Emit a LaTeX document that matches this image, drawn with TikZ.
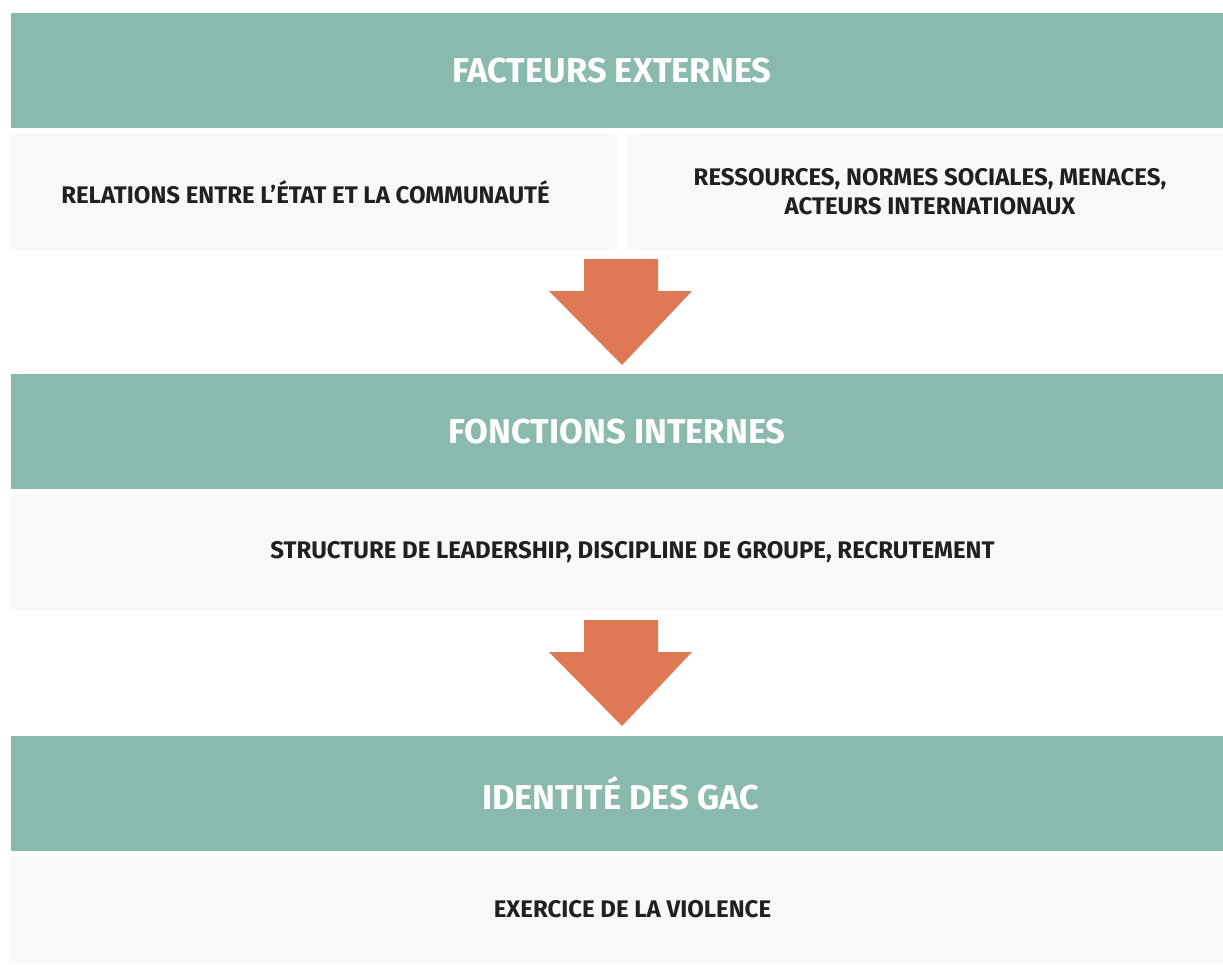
\documentclass[tikz,border=0pt]{standalone}
\usepackage{fontspec}
\setmainfont{Fira Sans}
\usetikzlibrary{calc}
\definecolor{headteal}{HTML}{8AB9AE}
\definecolor{boxgrey}{HTML}{F7F9F8}
\definecolor{arroworange}{HTML}{DF7855}
\definecolor{textdark}{HTML}{231F20}
\tikzset{headbox/.style={fill=headteal,text=white,inner sep=0pt,minimum width=1212pt,minimum height=115pt,
    font=\fontsize{34.5}{40}\selectfont\bfseries},
  subbox/.style={fill=boxgrey,text=textdark,inner sep=0pt,minimum height=116pt,align=center,
    font=\fontsize{24}{29}\selectfont\bfseries},
  blockarrow/.style={fill=arroworange}}

\begin{document}
\begin{tikzpicture}[x=1pt,y=-1pt]
      \useasboundingbox[fill=white] (0,0) rectangle (1223,964);
      \node[headbox] (ext) at (617, 70.5) {FACTEURS EXTERNES\hspace*{10pt}};
      \node[subbox,minimum width=607pt] (rel) at (313.5, 192) {RELATIONS ENTRE L’ÉTAT ET LA COMMUNAUTÉ\hspace*{16pt}};
      \node[subbox,minimum width=596pt] (res) at (925, 192) {\hspace*{10pt}RESSOURCES, NORMES SOCIALES, MENACES,\\\hspace*{10pt}ACTEURS INTERNATIONAUX};
      \node[headbox] (int) at (617, 431.5) {FONCTIONS INTERNES};
      \node[subbox,minimum width=1213pt,minimum height=115pt] (lead) at (616.5, 552.5) {\hspace*{32pt}STRUCTURE DE LEADERSHIP, DISCIPLINE DE GROUPE, RECRUTEMENT};
      \node[headbox] (gac) at (617, 793.5) {\hspace*{8pt}IDENTITÉ DES GAC};
      \node[subbox,minimum width=1213pt,minimum height=107pt] (viol) at (616.5, 909.5) {\hspace*{32pt}EXERCICE DE LA VIOLENCE};
      \coordinate (a1) at (621, 259);
      \coordinate (a2) at (621, 620);
      \fill[blockarrow] ($(a1)+(-37,0)$) -- ($(a1)+(37,0)$) -- ($(a1)+(37,32)$) -- ($(a1)+(71,32)$)
        -- ($(a1)+(1,106)$) -- ($(a1)+(-72,32)$) -- ($(a1)+(-37,32)$) -- cycle;
      \fill[blockarrow] ($(a2)+(-37,0)$) -- ($(a2)+(37,0)$) -- ($(a2)+(37,32)$) -- ($(a2)+(71,32)$)
        -- ($(a2)+(1,106)$) -- ($(a2)+(-72,32)$) -- ($(a2)+(-37,32)$) -- cycle;
\end{tikzpicture}
\end{document}
